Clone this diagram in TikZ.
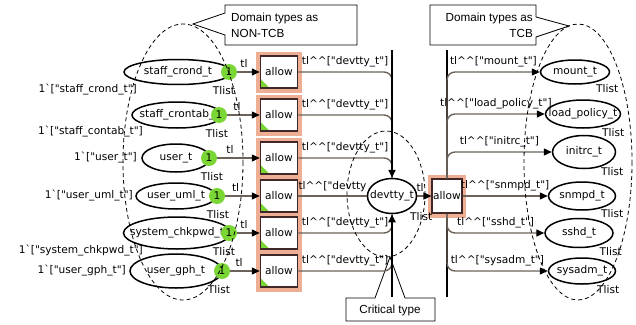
\documentclass[tikz,border=0pt]{standalone}
\usepackage{fontspec}
\setmainfont{Liberation Sans}
\newfontfamily\labfont{DejaVu Sans}
\usetikzlibrary{arrows.meta}
\usetikzlibrary{shapes.geometric}
\usetikzlibrary{positioning}
\definecolor{arcgray}{RGB}{108,98,90}
\definecolor{tokgreen}{RGB}{122,214,52}
\definecolor{halo}{RGB}{238,174,148}
\definecolor{transedge}{RGB}{64,40,40}
\newcommand{\cc}{\textasciicircum\textasciicircum}
\newcommand{\gr}{\textasciigrave}
\tikzset{
  lab/.style={font=\labfont\fontsize{10.6}{12}\selectfont, inner sep=1pt},
  place/.style={ellipse, draw, line width=1.5pt, fill=white, inner sep=0pt},
  ptext/.style={label={[lab]center:#1}},
  tokenmark/.style={circle, fill=tokgreen, inner sep=0pt, minimum size=16pt, lab},
  trans/.style={rectangle, draw=transedge, line width=1.5pt, fill=white, inner sep=0pt,
    minimum width=37pt, minimum height=32pt, preaction={draw=halo, line width=9pt}, lab},
  cornermark/.style={path picture={\fill[tokgreen] (path picture bounding box.south west)
    -- ([xshift=9pt]path picture bounding box.south west)
    -- ([yshift=9pt]path picture bounding box.south west) -- cycle;}},
  arcline/.style={draw=arcgray, line width=1.4pt},
  tipped/.style={-{Triangle[length=8pt,width=7pt,color=black]}},
  bus/.style={draw=black, line width=2pt},
  note/.style={draw, fill=white, line width=0.8pt},
  notetext/.style={font=\fontsize{11.7}{16}\selectfont, inner sep=0pt},
  typeset/.style={draw, dash pattern=on 4pt off 3pt, line width=0.8pt}
}
\begin{document}
\begin{tikzpicture}[x=1pt,y=-1pt]
\useasboundingbox (0,0) rectangle (636,324);

% callouts
\draw[note] (357,5) -- (225,5) -- (225,13) -- (193,24) -- (225,35) -- (225,45) -- (357,45) -- cycle;
\node[notetext, anchor=west, align=left] (n1) at (231,25) {Domain types as\\NON-TCB};
\draw[note] (430,5) -- (536,5) -- (536,17) -- (569,26) -- (536,37) -- (536,45) -- (430,45) -- cycle;
\node[notetext, anchor=east, align=right] (n2) at (533,25) {Domain types as\\TCB};
\draw[note] (346,298) -- (375,298) -- (390,257) -- (405,298) -- (435,298) -- (435,321) -- (346,321) -- cycle;
\node[notetext] (n3) at (390,310) {Critical type};

\coordinate (ltop) at (392,50);
\coordinate (lbot) at (392,297);
\coordinate (rtop) at (447,50);
\coordinate (rbot) at (447,297);
\draw[bus] (rtop) -- (rbot);

% places
\node[place, minimum width=108pt, minimum height=25pt, ptext=staff\_crond\_t] (p1) at (178,72) {};
\node[place, minimum width=90pt, minimum height=26pt, ptext=staff\_crontab\_] (p2) at (177,115) {};
\node[place, minimum width=68pt, minimum height=28pt, ptext=user\_t] (p3) at (176,158) {};
\node[place, minimum width=80pt, minimum height=26pt, ptext=user\_uml\_t] (p4) at (176,196) {};
\node[place, minimum width=107pt, minimum height=32pt, ptext=system\_chkpwd\_t] (p5) at (177,233) {};
\node[place, minimum width=92pt, minimum height=34pt, ptext=user\_gph\_t] (p6) at (176,271) {};
\node[place, minimum width=49pt, minimum height=35pt, ptext=devtty\_t] (dev) at (392,196) {};
\node[place, minimum width=69pt, minimum height=24pt, ptext=mount\_t] (q1) at (575,72) {};
\node[place, minimum width=75pt, minimum height=28pt, ptext=load\_policy\_t] (q2) at (583,114) {};
\node[place, minimum width=63pt, minimum height=33pt, ptext=initrc\_t] (q3) at (584,152) {};
\node[place, minimum width=67pt, minimum height=28pt, ptext=snmpd\_t] (q4) at (582,196) {};
\node[place, minimum width=68pt, minimum height=29pt, ptext=sshd\_t] (q5) at (579,233) {};
\node[place, minimum width=67pt, minimum height=26pt, ptext=sysadm\_t] (q6) at (582,271) {};

% tokens
\node[tokenmark] (k1) at (229,72) {1};
\node[tokenmark] (k2) at (219,115) {1};
\node[tokenmark] (k3) at (209,158) {1};
\node[tokenmark] (k4) at (217,196) {1};
\node[tokenmark] (k5) at (229,233) {1};
\node[tokenmark] (k6) at (222,271) {1};

% transitions
\foreach \i/\y in {1/72,2/115,3/158,4/196,5/233,6/271}
  \node[trans, cornermark] (t\i) at (279,\y) {allow};
\node[trans, minimum width=29pt, minimum height=34pt] (ta) at (447,196) {allow};

\foreach \i in {1,...,6}
  \draw[arcline, tipped] (k\i) -- (t\i) node[lab, above=3pt, pos=0.3] {tl};

\draw[arcline, rounded corners=8pt] (t1.east) -| (dev.north) node[lab, above=3pt, pos=0.25] {tl\cc["devtty\_t"]};
\draw[arcline, rounded corners=8pt] (t2.east) -| (dev.north) node[lab, above=3pt, pos=0.25] {tl\cc["devtty\_t"]};
\draw[arcline, rounded corners=8pt] (t3.east) -| (dev.north) node[lab, above=3pt, pos=0.25] {tl\cc["devtty\_t"]};
\draw[arcline] (t4.east) -- (dev.west) node[lab, above=3pt, midway] {tl\cc["devtty};
\draw[arcline, rounded corners=8pt] (t5.east) -| (dev.south) node[lab, above=3pt, pos=0.25] {tl\cc["devtty\_t"]};
\draw[arcline, rounded corners=8pt] (t6.east) -| (dev.south) node[lab, above=3pt, pos=0.25] {tl\cc["devtty\_t"]};
\draw[bus, tipped] (ltop) -- (dev.north);
\draw[bus, tipped] (lbot) -- (dev.south);

\draw[arcline, tipped] (dev.east) -- (ta.west) node[lab, above=3pt, pos=0.2] {tl};

\draw[arcline, tipped, rounded corners=8pt] (ta.north) |- (q1.west) node[lab, above=3pt, pos=0.75] {tl\cc["mount\_t"]};
\draw[arcline, tipped, rounded corners=8pt] (ta.north) |- (q2.west) node[lab, above=3pt, pos=0.75] {tl\cc["load\_policy\_t"]};
\draw[arcline, tipped, rounded corners=8pt] (ta.north) |- (q3.west) node[lab, above=3pt, pos=0.75] {tl\cc["initrc\_t"]};
\draw[arcline, tipped] (ta.east) -- (q4.west) node[lab, above=3pt, midway] {tl\cc["snmpd\_t"]};
\draw[arcline, tipped, rounded corners=8pt] (ta.south) |- (q5.west) node[lab, above=3pt, pos=0.75] {tl\cc["sshd\_t"]};
\draw[arcline, tipped, rounded corners=8pt] (ta.south) |- (q6.west) node[lab, above=3pt, pos=0.75] {tl\cc["sysadm\_t"]};

% colour sets
\node[lab, below=5pt of k1, xshift=-5pt] (s1) {Tlist};
\node[lab, below=5pt of k2, xshift=-2pt] (s2) {Tlist};
\node[lab, below=5pt of k3, xshift=3pt] (s3) {Tlist};
\node[lab, below=5pt of k4, xshift=1pt] (s4) {Tlist};
\node[lab, below=5pt of k5, xshift=-5pt] (s5) {Tlist};
\node[lab, below=5pt of k6, xshift=-3pt] (s6) {Tlist};
\node[lab] (sd) at ([xshift=4pt,yshift=-21pt]dev.east) {Tlist};
\node[lab] (r1) at ([xshift=-3pt,yshift=-17pt]q1.east) {Tlist};
\node[lab] (r2) at ([xshift=-8pt,yshift=-19pt]q2.east) {Tlist};
\node[lab] (r3) at ([xshift=-4pt,yshift=-20pt]q3.east) {Tlist};
\node[lab] (r4) at ([xshift=-4pt,yshift=-18pt]q4.east) {Tlist};
\node[lab] (r5) at ([xshift=-3pt,yshift=-19pt]q5.east) {Tlist};
\node[lab] (r6) at ([xshift=-8pt,yshift=-19pt]q6.east) {Tlist};

% initial markings
\node[lab, anchor=east] (m1) at (138,90) {1\gr["staff\_crond\_t"]};
\node[lab, anchor=east] (m2) at (144,132) {1\gr["staff\_contab\_t"]};
\node[lab, anchor=east] (m3) at (138,158) {1\gr["user\_t"]};
\node[lab, anchor=east] (m4) at (134,196) {1\gr["user\_uml\_t"]};
\node[lab, anchor=east] (m5) at (144,251) {1\gr["system\_chkpwd\_t"]};
\node[lab, anchor=east] (m6) at (127,271) {1\gr["user\_gph\_t"]};

% domains
\draw[typeset] (183,162) ellipse [x radius=60, y radius=138];
\draw[typeset] (386,194) ellipse [x radius=39, y radius=63];
\draw[typeset] (578,162) ellipse [x radius=54, y radius=138];
\end{tikzpicture}
\end{document}
